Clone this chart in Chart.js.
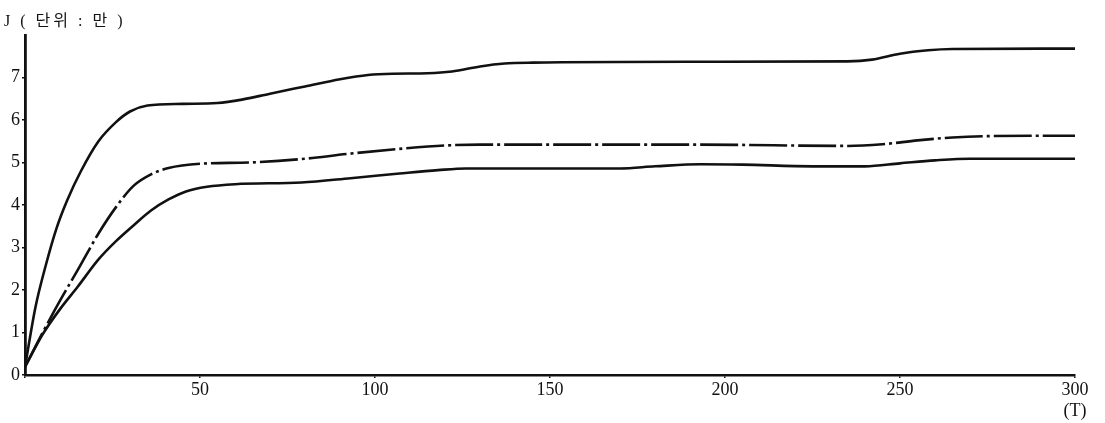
<!DOCTYPE html>
<html>
<head>
<meta charset="utf-8">
<script src="https://cdn.jsdelivr.net/npm/chart.js@4.4.0/dist/chart.umd.min.js"></script>
<style>
  html, body { margin: 0; padding: 0; background: #fff; }
  #wrap { position: relative; width: 1105px; height: 423px; }
  #ttl { position: absolute; left: 4px; top: 7px; font: 16px "Liberation Serif", "Noto Sans CJK KR", serif; letter-spacing: 3px; color: #111; white-space: pre; }
</style>
</head>
<body>
<div id="wrap">
  <canvas id="c" width="1105" height="423"></canvas>
  <div id="ttl">J ( 단위 : 만 )</div>
</div>
<script>
// Top curve (solid)
const topT = [0, 3, 6, 9, 12, 16, 21, 26, 30, 35, 45, 55, 62, 70, 80, 90, 98, 105, 115, 122, 130, 137, 145, 193, 235, 242, 250, 258, 265, 300];
const topJ = [0.19, 1.6, 2.6, 3.45, 4.1, 4.8, 5.5, 5.95, 6.2, 6.34, 6.38, 6.4, 6.48, 6.62, 6.79, 6.96, 7.06, 7.09, 7.1, 7.14, 7.26, 7.33, 7.35, 7.37, 7.38, 7.42, 7.56, 7.64, 7.67, 7.68];
// Middle curve (dash-dot)
const midT = [0, 5, 10, 15, 21, 26, 31, 36, 41, 50, 64, 79, 92, 107, 120, 130, 193, 235, 245, 255, 265, 275, 300];
const midJ = [0.19, 0.99, 1.75, 2.46, 3.33, 3.95, 4.45, 4.72, 4.87, 4.97, 5.0, 5.08, 5.2, 5.32, 5.4, 5.42, 5.42, 5.39, 5.43, 5.52, 5.59, 5.62, 5.63];
// Bottom curve (solid)
const lowT = [0, 5, 10, 15, 21, 26, 31, 36, 41, 46, 52, 60, 79, 93, 107, 118, 126, 170, 180, 193, 205, 225, 240, 250, 260, 270, 300];
const lowJ = [0.19, 0.95, 1.55, 2.07, 2.72, 3.15, 3.52, 3.87, 4.13, 4.32, 4.43, 4.49, 4.53, 4.63, 4.74, 4.82, 4.86, 4.86, 4.91, 4.96, 4.95, 4.91, 4.91, 4.98, 5.05, 5.09, 5.09];
// Axis tick labels
const xTicks = [50, 100, 150, 200, 250, 300];
const yTicks = [0, 1, 2, 3, 4, 5, 6, 7];
const xUnit = '(T)';

const toPts = (xs, ys) => xs.map((x, i) => ({ x: x, y: ys[i] }));
const serif = '"Liberation Serif", "DejaVu Serif", serif';

new Chart(document.getElementById('c'), {
  type: 'line',
  data: {
    datasets: [
      { data: toPts(topT, topJ), borderColor: '#111', borderWidth: 2.6, pointRadius: 0, fill: false, cubicInterpolationMode: 'monotone' },
      { data: toPts(midT, midJ), borderColor: '#111', borderWidth: 2.6, pointRadius: 0, fill: false, cubicInterpolationMode: 'monotone', borderDash: [38, 4, 3, 4] },
      { data: toPts(lowT, lowJ), borderColor: '#111', borderWidth: 2.6, pointRadius: 0, fill: false, cubicInterpolationMode: 'monotone' }
    ]
  },
  options: {
    responsive: false,
    animation: false,
    layout: { padding: { top: 35, right: 30, left: 0, bottom: 0 } },
    plugins: { legend: { display: false }, tooltip: { enabled: false } },
    scales: {
      x: {
        type: 'linear', min: 0, max: 300,
        afterFit: s => { s.height = 48; },
        afterBuildTicks: s => { s.ticks = [0].concat(xTicks).map(v => ({ value: v })); },
        border: { color: '#111', width: 2.5 },
        grid: { display: true, drawOnChartArea: false, tickLength: 3, color: '#111', lineWidth: 1.5 },
        ticks: {
          color: '#111', font: { family: serif, size: 18 }, padding: 1, maxRotation: 0,
          callback: v => v === 0 ? '' : (v === 300 ? [String(v), xUnit] : String(v))
        }
      },
      y: {
        min: 0, max: 8,
        afterFit: s => { s.width = 25; },
        afterBuildTicks: s => { s.ticks = yTicks.map(v => ({ value: v })); },
        border: { color: '#111', width: 2.8 },
        grid: { display: true, drawOnChartArea: false, tickLength: 3, color: '#111', lineWidth: 1.5 },
        ticks: { color: '#111', font: { family: serif, size: 18 }, padding: 2, callback: v => String(v) }
      }
    }
  }
});
</script>
</body>
</html>
